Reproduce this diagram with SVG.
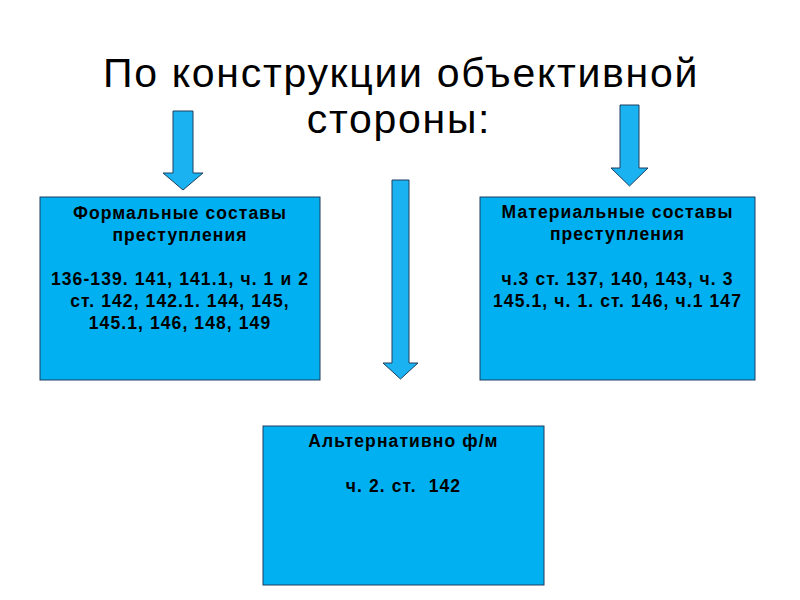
<svg xmlns="http://www.w3.org/2000/svg" width="800" height="600" viewBox="0 0 800 600">
<style>
.title{font-family:"Liberation Sans",Arial,sans-serif;font-size:41px;letter-spacing:1.7px;fill:#000;text-anchor:middle}
.box{fill:#00b0f0;stroke:#1f3f5f;stroke-width:1}
.arrow{fill:#1ab2f0;stroke:#1f3f5f;stroke-width:1}
.t{font-family:"Liberation Sans",Arial,sans-serif;font-size:17.5px;letter-spacing:1.1px;font-weight:bold;fill:#000;text-anchor:middle}
</style>
<rect width="800" height="600" fill="#fff"/>
<g id="title">
<text class="title" x="401" y="87">По конструкции объективной</text>
<text class="title" x="399" y="133">стороны:</text>
</g>
<g id="connectors">
<polygon class="arrow" points="173,111 193,111 193,173 203,173 183,190 163,173 173,173"/>
<polygon class="arrow" points="392,180 409,180 409,363 418,363 400.5,379 383,363 392,363"/>
<polygon class="arrow" points="620,105 639,105 639,168 648,168 629.5,186 611,168 620,168"/>
</g>
<g id="formal">
<rect class="box" x="40" y="197" width="280" height="183"/>
<text class="t" x="180" y="219">Формальные составы</text>
<text class="t" x="180" y="241">преступления</text>
<text class="t" x="180" y="285">136-139. 141, 141.1, ч. 1 и 2</text>
<text class="t" x="180" y="307">ст. 142, 142.1. 144, 145,</text>
<text class="t" x="180" y="329">145.1, 146, 148, 149</text>
</g>
<g id="material">
<rect class="box" x="480" y="197" width="275" height="183"/>
<text class="t" x="617.5" y="218">Материальные составы</text>
<text class="t" x="617.5" y="240">преступления</text>
<text class="t" x="617.5" y="285">ч.3 ст. 137, 140, 143, ч. 3</text>
<text class="t" x="617.5" y="307">145.1, ч. 1. ст. 146, ч.1 147</text>
</g>
<g id="alternative">
<rect class="box" x="263" y="426" width="281" height="159"/>
<text class="t" x="403.5" y="447">Альтернативно ф/м</text>
<text class="t" x="403.5" y="492" xml:space="preserve">ч. 2. ст.  142</text>
</g>
</svg>
